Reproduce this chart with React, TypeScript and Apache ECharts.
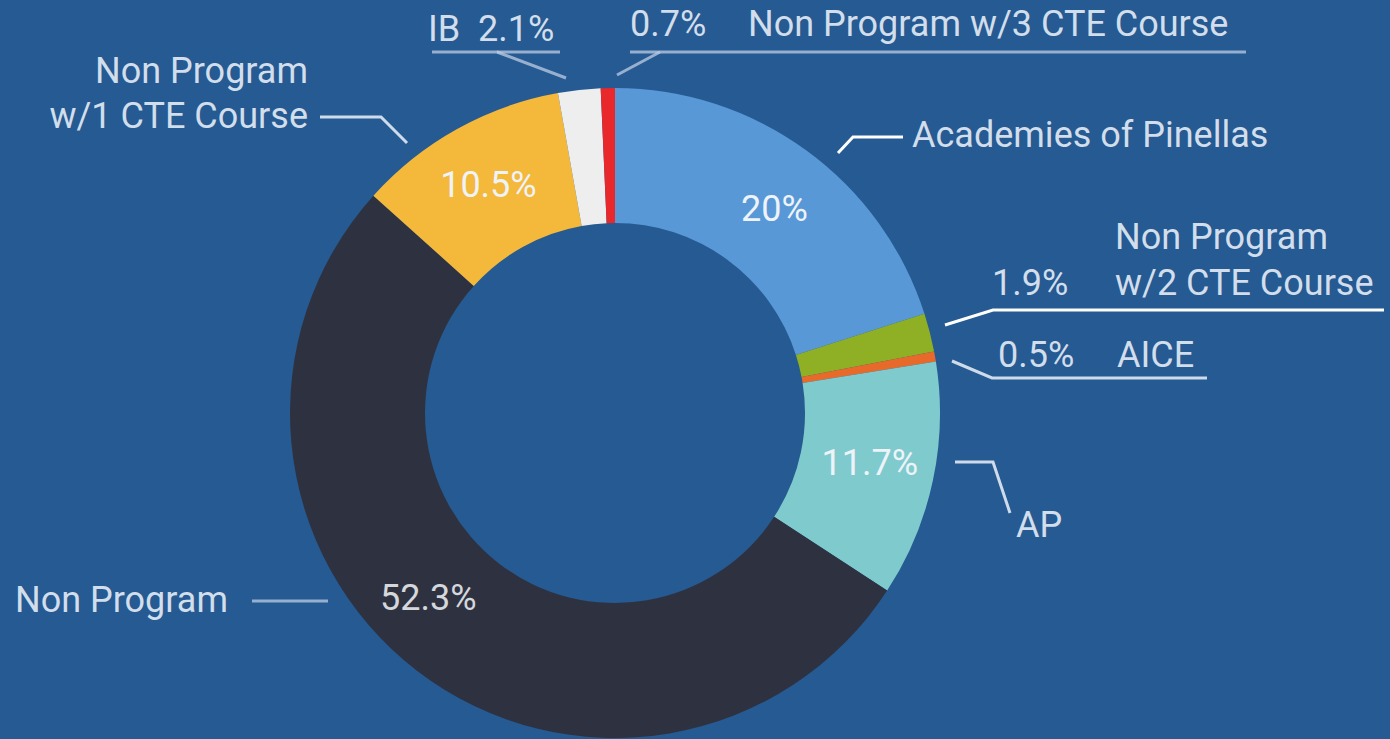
import React, { useEffect, useRef } from "react";
import * as echarts from "echarts";

// ---- data ----
const categories = [
  "Academies of Pinellas",
  "Non Program w/2 CTE Course",
  "AICE",
  "AP",
  "Non Program",
  "Non Program w/1 CTE Course",
  "IB",
  "Non Program w/3 CTE Course",
];
const values = [20, 1.9, 0.5, 11.7, 52.3, 10.5, 2.1, 0.7];
const sliceColors = ["#5898d6", "#8fb024", "#e86a2a", "#7ecacd", "#2e3240", "#f4b83a", "#eeeeee", "#e8282a"];

const BG = "#265a92";
const TEXT = "rgba(235,241,249,0.88)";
const FONT = "Roboto";

export default function App() {
  const ref = useRef<HTMLDivElement>(null);
  useEffect(() => {
    if (!ref.current) return;
    const chart = echarts.init(ref.current, null, { renderer: "svg" });
    const pct = (i: number) => `${values[i]}%`;

    const txt = (text: string, x: number, y: number, align: string = "left", lineHeight = 45) => ({
      type: "text",
      x,
      y,
      silent: true,
      style: {
        text,
        fill: TEXT,
        fontSize: 36,
        fontFamily: FONT,
        align,
        verticalAlign: "middle",
        lineHeight,
      },
    });
    const ln = (points: number[][], stroke: string) => ({
      type: "polyline",
      silent: true,
      shape: { points },
      style: { stroke, lineWidth: 3, fill: null },
    });
    const soft = "rgba(190,205,228,0.75)";
    const mid = "rgba(225,233,244,0.9)";
    const white = "#ffffff";

    const graphic = [
      // IB
      txt(`${categories[6]}  ${pct(6)}`, 428, 29),
      ln([[566, 78], [497, 52], [432, 52]], soft),
      ln([[497, 52], [560, 52]], soft),
      // Non Program w/3 CTE Course
      txt(pct(7), 630, 24),
      txt(categories[7], 748, 24),
      ln([[617, 75], [660, 52]], soft),
      ln([[630, 52], [1246, 52]], soft),
      // Non Program w/1 CTE Course
      txt("Non Program\nw/1 CTE Course", 308, 93, "right"),
      ln([[320, 117], [381, 117], [407, 143]], mid),
      // Academies
      txt(categories[0], 912, 135),
      ln([[903, 137], [853, 137], [838, 153]], white),
      // Non Program w/2 CTE Course
      txt(pct(1), 992, 283),
      txt("Non Program\nw/2 CTE Course", 1115, 260, "left", 46),
      ln([[945, 325], [993, 310], [1384, 310]], white),
      // AICE
      txt(pct(2), 998, 355),
      txt(categories[2], 1117, 355),
      ln([[952, 361], [992, 378], [1207, 378]], mid),
      // AP
      txt(categories[3], 1016, 525),
      ln([[955, 462], [993, 462], [1010, 513]], mid),
      // Non Program
      txt(categories[4], 15, 600),
      ln([[252, 601], [328, 601]], soft),
    ];

    const offsets: Record<number, number[]> = { 0: [6, 6], 4: [-28, -22], 5: [0, 0], 3: [0, -4] };

    const data = categories.map((name, i) => ({
      name,
      value: values[i],
      itemStyle: { color: sliceColors[i] },
      label:
        values[i] >= 10
          ? {
              show: true,
              position: "inside",
              formatter: `${values[i]}%`,
              color: i === 4 ? "#d4d7dc" : "#eef3f8",
              fontSize: 36,
              fontFamily: FONT,
              offset: offsets[i] || [0, 0],
            }
          : { show: false },
      labelLine: { show: false },
    }));

    chart.setOption({
      animation: false,
      backgroundColor: BG,
      graphic,
      series: [
        {
          type: "pie",
          center: [615, 413],
          radius: [190, 325],
          startAngle: 90,
          clockwise: true,
          avoidLabelOverlap: false,
          silent: true,
          label: { show: false },
          labelLine: { show: false },
          itemStyle: { borderWidth: 0 },
          data,
        },
      ],
    });
    return () => chart.dispose();
  }, []);

  return (
    <div
      ref={ref}
      style={{ position: "fixed", left: 0, top: 0, width: 1390, height: 739, background: BG }}
    />
  );
}
